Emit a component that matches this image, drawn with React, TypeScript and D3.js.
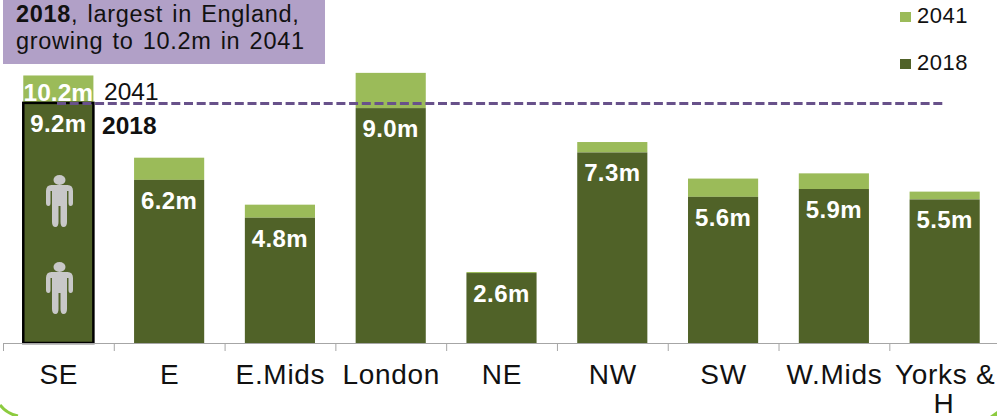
import React from "react";
import * as d3 from "d3";

const categories = ["SE", "E", "E.Mids", "London", "NE", "NW", "SW", "W.Mids", "Yorks &"];
const values2018 = [9.2, 6.25, 4.8, 9.0, 2.68, 7.3, 5.6, 5.9, 5.5];
const values2041 = [10.25, 7.1, 5.3, 10.35, 2.72, 7.7, 6.3, 6.5, 5.8];
const labels = ["9.2m", "6.2m", "4.8m", "9.0m", "2.6m", "7.3m", "5.6m", "5.9m", "5.5m"];
const legendItems = ["2041", "2018"];

const W = 997, H = 416;
const font = "Liberation Sans, Arial, sans-serif";
const dark = "#506228", light = "#9bbb59", purple = "#68518a";

export default function App() {
  const x = d3.scaleBand<string>().domain(categories).range([3, 1000]).paddingInner(0.367).paddingOuter(0.183);
  const y = d3.scaleLinear().domain([0, 10]).range([343, 82]);
  const bw = x.bandwidth();
  const step = x.step();
  const base = y(0);
  const ticks = categories.map((_, i) => 3 + i * step);
  const seX = x("SE")!;
  return (
    <svg width={W} height={H} viewBox={`0 0 ${W} ${H}`} style={{ position: "absolute", left: 0, top: 0, fontFamily: font }}>
      <rect width={W} height={H} fill="#fff" />
      <path d="M0,405 Q7,414 18,416" fill="none" stroke="#8ccb3f" strokeWidth={3} />
      <path d="M997,411 L990,416 L997,416 Z" fill="#8ccb3f" />
      <rect x={3} y={-2} width={322} height={66} fill="#b1a0c7" />
      <text x={16} y={22} fontSize={23.5} fill="#111" letterSpacing={0.7} wordSpacing={2}>
        <tspan fontWeight="bold">2018</tspan>, largest in England,
      </text>
      <text x={16} y={49} fontSize={23.5} fill="#111" letterSpacing={0.7} wordSpacing={2}>growing to 10.2m in 2041</text>

      {categories.map((c, i) => (
        <g key={c}>
          <rect x={x(c)} y={y(values2041[i])} width={bw} height={y(values2018[i]) - y(values2041[i])} fill={light} />
          <rect x={x(c)} y={y(values2018[i])} width={bw} height={base - y(values2018[i])} fill={dark} />
        </g>
      ))}
      <rect x={seX} y={y(values2018[0])} width={bw} height={base - y(values2018[0])} fill="none" stroke="#000" strokeWidth={2.5} />

      {categories.map((c, i) => (
        <text key={c} x={x(c)! + bw / 2} y={y(values2018[i]) + 29} textAnchor="middle" fontSize={24} letterSpacing={0.4} fontWeight="bold" fill="#fff">{labels[i]}</text>
      ))}
      <text x={seX + bw / 2} y={101} textAnchor="middle" fontSize={24.5} fontWeight="bold" fill="#fff">10.2m</text>
      <text x={104} y={100} fontSize={24.5} fill="#111">2041</text>
      <text x={102} y={134} fontSize={24.5} fontWeight="bold" fill="#111">2018</text>

      <line x1={57} x2={946} y1={103.5} y2={103.5} stroke={purple} strokeWidth={3} strokeDasharray="9 3.7" />

      {[175, 262].map(py => (
        <g key={py} transform={`translate(59.5,${py})`} fill="#c8c8c8">
          <ellipse cx={0} cy={5} rx={6} ry={5} />
          <path d="M-13.5,16 Q-13.5,10 -8,10 L8,10 Q13.5,10 13.5,16 L13.5,28 Q13.5,31 11,31 Q9,31 9,28 L9,16 L7.5,16 L7.5,47 Q7.5,52 4,52 Q1,52 1,47 L1,31 L-1,31 L-1,47 Q-1,52 -4,52 Q-7.5,52 -7.5,47 L-7.5,16 L-9,16 L-9,28 Q-9,31 -11,31 Q-13.5,31 -13.5,28 Z" />
        </g>
      ))}

      <line x1={3} x2={W} y1={343.5} y2={343.5} stroke="#a6a6a6" strokeWidth={1} />
      {ticks.map(t => (
        <line key={t} x1={t + 0.5} x2={t + 0.5} y1={343} y2={351} stroke="#a6a6a6" strokeWidth={1} />
      ))}
      {categories.map(c => (
        <text key={c} x={x(c)! + bw / 2 + 0.5} y={384} textAnchor="middle" fontSize={28} letterSpacing={0.7} fill="#111">{c}</text>
      ))}
      <text x={x("Yorks &")! + bw / 2 - 1} y={413} textAnchor="middle" fontSize={28} fill="#111">H</text>

      {legendItems.map((l, i) => (
        <g key={l}>
          <rect x={900} y={12 + i * 47} width={11} height={10} fill={i === 0 ? light : dark} />
          <text x={917} y={23 + i * 47} fontSize={22} letterSpacing={0.5} fill="#111">{l}</text>
        </g>
      ))}
    </svg>
  );
}
